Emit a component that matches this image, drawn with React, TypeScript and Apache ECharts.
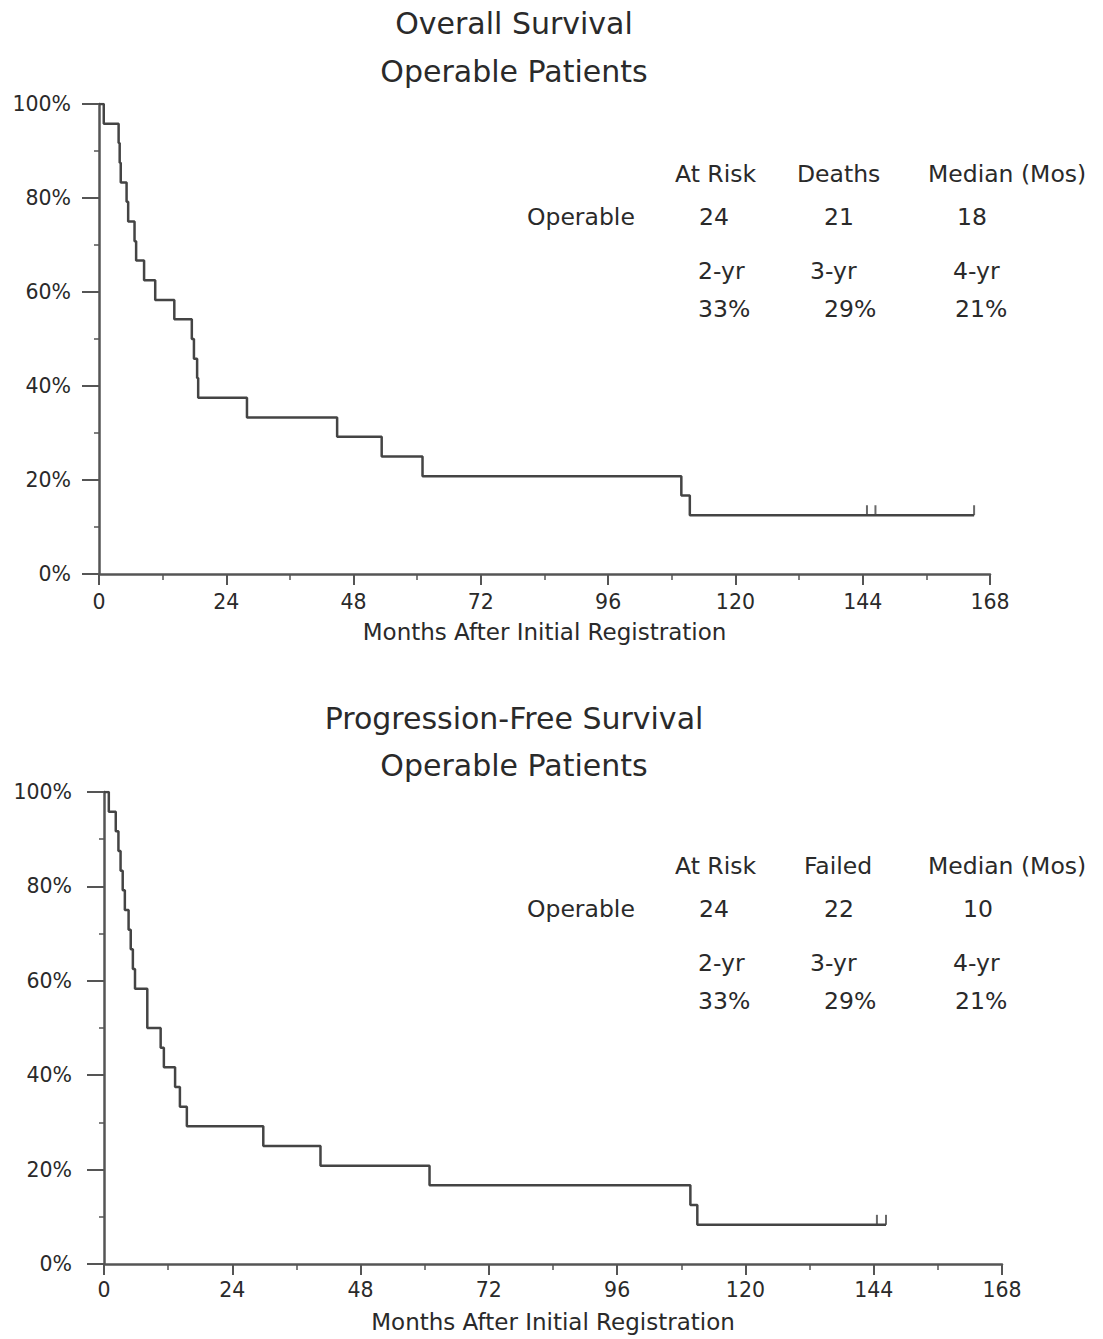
import React, { useEffect, useRef } from "react";
import * as echarts from "echarts";

// ---------- data ----------
const xTicks = [0, 24, 48, 72, 96, 120, 144, 168];
const yTicks = [0, 20, 40, 60, 80, 100];

// Overall survival (months, % surviving) - Kaplan-Meier steps
const osTimes = [0, 0.9, 3.7, 3.9, 4.1, 5.2, 5.5, 6.7, 7.0, 8.5, 10.6, 14.2, 17.5, 17.9, 18.5, 18.7, 27.9, 44.9, 53.3, 61.0, 109.8, 111.4, 165];
const osSurv = [100, 95.8, 91.7, 87.5, 83.3, 79.2, 75.0, 70.8, 66.7, 62.5, 58.3, 54.2, 50.0, 45.8, 41.7, 37.5, 33.3, 29.2, 25.0, 20.8, 16.7, 12.5, 12.5];
const osCensorTimes = [144.8, 146.4, 165];
const osCensorSurv = [12.5, 12.5, 12.5];

// Progression-free survival
const pfsTimes = [0, 0.9, 2.2, 2.7, 3.1, 3.5, 3.9, 4.6, 5.0, 5.4, 5.8, 8.1, 8.1, 10.6, 11.2, 13.3, 14.2, 15.5, 29.8, 40.5, 60.9, 109.7, 111.0, 146.3];
const pfsSurv = [100, 95.8, 91.7, 87.5, 83.3, 79.2, 75.0, 70.8, 66.7, 62.5, 58.3, 54.2, 50.0, 45.8, 41.7, 37.5, 33.3, 29.2, 25.0, 20.8, 16.7, 12.5, 8.3, 8.3];
const pfsCensorTimes = [144.6, 146.3];
const pfsCensorSurv = [8.3, 8.3];

// Titles and tables
const osTitle = ["Overall Survival", "Operable Patients"];
const pfsTitle = ["Progression-Free Survival", "Operable Patients"];
const xAxisName = "Months After Initial Registration";
const rowLabel = "Operable";
const osHeaders = ["At Risk", "Deaths", "Median (Mos)"];
const osRow = ["24", "21", "18"];
const pfsHeaders = ["At Risk", "Failed", "Median (Mos)"];
const pfsRow = ["24", "22", "10"];
const yearLabels = ["2-yr", "3-yr", "4-yr"];
const osRates = ["33%", "29%", "21%"];
const pfsRates = ["33%", "29%", "21%"];

const FONT = "DejaVu Sans";
const TEXT = "#2a2a2a";
const AXIS = "#555";
const CURVE = "#444";

function zip(a: number[], b: number[]) {
  return a.map((v, i) => [v, b[i]]);
}

export default function App() {
  const ref = useRef<HTMLDivElement>(null);

  useEffect(() => {
    if (!ref.current) return;
    const chart = echarts.init(ref.current, null, { renderer: "svg" });

    const mkX = (gridIndex: number, labelMargin: number) => ({
      type: "value",
      gridIndex,
      min: xTicks[0],
      max: xTicks[xTicks.length - 1],
      interval: 24,
      name: xAxisName,
      nameLocation: "middle",
      nameGap: 46,
      nameTextStyle: { fontFamily: FONT, fontSize: 23, color: TEXT },
      axisLine: { show: true, lineStyle: { color: AXIS, width: 2.5 } },
      axisTick: { show: true, length: 11, lineStyle: { color: AXIS, width: 2 } },
      minorTick: { show: true, splitNumber: 2, length: 6, lineStyle: { color: AXIS, width: 1.5 } },
      axisLabel: { fontFamily: FONT, fontSize: 20.5, color: TEXT, margin: labelMargin },
      splitLine: { show: false },
    });
    const mkY = (gridIndex: number, labelMargin: number) => ({
      type: "value",
      gridIndex,
      min: yTicks[0],
      max: yTicks[yTicks.length - 1],
      interval: 20,
      axisLine: { show: true, onZero: false, lineStyle: { color: AXIS, width: 2.5 } },
      axisTick: { show: true, length: 17, lineStyle: { color: AXIS, width: 2 } },
      minorTick: { show: true, splitNumber: 2, length: 5, lineStyle: { color: AXIS, width: 1.5 } },
      axisLabel: { fontFamily: FONT, fontSize: 20.5, color: TEXT, margin: labelMargin, formatter: "{value}%" },
      splitLine: { show: false },
    });

    const textEl = (text: string, x: number, y: number, size: number, align = "left") => ({
      type: "text",
      style: {
        text,
        x,
        y,
        fill: TEXT,
        fontFamily: FONT,
        fontSize: size,
        textAlign: align,
        textVerticalAlign: "middle",
      },
    });

    const table = (
      top: number,
      headers: string[],
      row: string[],
      rowX: number[],
      rates: string[]
    ) => {
      const hx = [675, 797, 928];
      const yx = [698, 810, 953];
      const rx = [698, 824, 955];
      const els: any[] = [];
      headers.forEach((h, i) => els.push(textEl(h, hx[i] + (i === 1 && h === "Failed" ? 7 : 0), top, 23.5)));
      els.push(textEl(rowLabel, 527, top + 43, 23.5));
      row.forEach((v, i) => els.push(textEl(v, rowX[i], top + 43, 23.5)));
      yearLabels.forEach((v, i) => els.push(textEl(v, yx[i], top + 97, 23.5)));
      rates.forEach((v, i) => els.push(textEl(v, rx[i], top + 135, 23.5)));
      return els;
    };

    const graphic: any[] = [
      textEl(osTitle[0], 514, 23, 30, "center"),
      textEl(osTitle[1], 514, 71, 30, "center"),
      textEl(pfsTitle[0], 514, 718, 30, "center"),
      textEl(pfsTitle[1], 514, 765, 30, "center"),
      ...table(174, osHeaders, osRow, [699, 824, 957], osRates),
      ...table(866, pfsHeaders, pfsRow, [699, 824, 963], pfsRates),
    ];

    const option: any = {
      animation: false,
      backgroundColor: "#ffffff",
      grid: [
        { left: 99, top: 104, width: 891, height: 470 },
        { left: 104, top: 792, width: 898, height: 472 },
      ],
      xAxis: [mkX(0, 17), mkX(1, 15)],
      yAxis: [mkY(0, 28), mkY(1, 32)],
      series: [
        {
          type: "line",
          xAxisIndex: 0,
          yAxisIndex: 0,
          step: "end",
          showSymbol: false,
          symbol: "none",
          lineStyle: { color: CURVE, width: 2.5 },
          data: zip(osTimes, osSurv),
          z: 3,
        },
        {
          type: "scatter",
          xAxisIndex: 0,
          yAxisIndex: 0,
          symbol: "rect",
          symbolSize: [2, 10],
          symbolOffset: [0, -5],
          itemStyle: { color: CURVE },
          data: zip(osCensorTimes, osCensorSurv),
          z: 4,
        },
        {
          type: "line",
          xAxisIndex: 1,
          yAxisIndex: 1,
          step: "end",
          showSymbol: false,
          symbol: "none",
          lineStyle: { color: CURVE, width: 2.5 },
          data: zip(pfsTimes, pfsSurv),
          z: 3,
        },
        {
          type: "scatter",
          xAxisIndex: 1,
          yAxisIndex: 1,
          symbol: "rect",
          symbolSize: [2, 10],
          symbolOffset: [0, -5],
          itemStyle: { color: CURVE },
          data: zip(pfsCensorTimes, pfsCensorSurv),
          z: 4,
        },
      ],
      graphic,
    };

    chart.setOption(option);
    return () => chart.dispose();
  }, []);

  return (
    <div
      ref={ref}
      style={{ position: "absolute", left: 0, top: 0, width: 1103, height: 1339, background: "#fff" }}
    />
  );
}
